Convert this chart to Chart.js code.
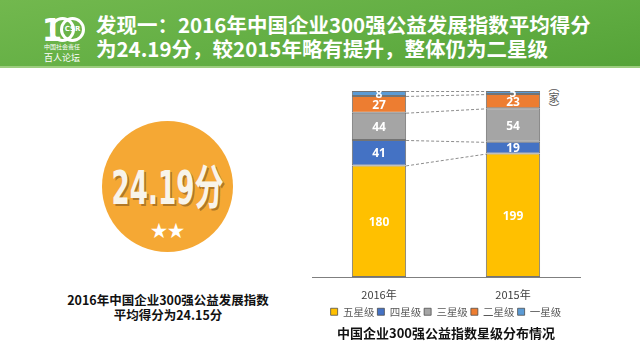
<!DOCTYPE html>
<html>
<head>
<meta charset="utf-8">
<script src="https://cdn.jsdelivr.net/npm/chart.js@4"></script>
<style>
  body { margin: 0; width: 640px; height: 360px; background: #fff; position: relative; overflow: hidden;
         font-family: "Noto Sans CJK SC", "Noto Sans", sans-serif; }
  #head { position: absolute; left: 0; top: 0; width: 640px; height: 66px;
          background: linear-gradient(170deg, #72b84e 0%, #62ae43 55%, #55a338 100%);
          border-bottom: 2px solid #9ccd7e; }
  #head .t { position: absolute; left: 96px; color: #fff; font-weight: bold; font-size: 20.5px; white-space: nowrap; }
  #logo1 { position: absolute; left: 42px; top: 11px; color: #fff; font: bold 32px "DejaVu Sans Condensed"; }
  .ring { position: absolute; top: 17px; width: 19px; height: 19px; border: 3px solid #fff; border-radius: 50%;
          color: #fff; font: bold 7px "DejaVu Sans"; text-align: center; line-height: 19px; }
  #logo3 { position: absolute; left: 40px; top: 43px; color: #fff; font-size: 6px; width: 44px; text-align: center; line-height: 8px; }
  #logo4 { position: absolute; left: 40px; top: 51px; color: #fff; font-size: 9px; width: 44px; text-align: center; }
  #circle { position: absolute; left: 102px; top: 121px; width: 131px; height: 131px; border-radius: 50%; background: #f5a834; }
  #score { position: absolute; left: -60px; top: 28px; width: 251px; text-align: center; color: #f8f4ea;
           font: bold 47px "DejaVu Sans Condensed", "Noto Sans CJK SC"; transform: scaleX(0.62);
           text-shadow: 3px 2px 0 rgba(90,60,20,0.45); white-space: nowrap; }
  #stars { position: absolute; left: 0; top: 99px; width: 131px; text-align: center; color: #fff; font-size: 17px; line-height: 20px; }
  #cap { position: absolute; left: 40px; top: 292px; width: 256px; text-align: center; font-weight: bold;
         font-size: 12.5px; line-height: 15px; color: #111; }
  #unit { position: absolute; left: 546px; top: 81px; writing-mode: vertical-rl; font-size: 11px; color: #595959; }
  #wrap { position: absolute; left: 303px; top: 80px; width: 300px; height: 266px; }
</style>
</head>
<body>
<div id="head">
  <div id="logo1">1</div>
  <div class="ring" style="left:50px"></div>
  <div class="ring" style="left:60px">CSR</div>
  <div id="logo3">中国社会责任</div>
  <div id="logo4">百人论坛</div>
  <div class="t" style="top:9px">发现一：2016年中国企业300强公益发展指数平均得分</div>
  <div class="t" style="top:33px">为24.19分，较2015年略有提升，整体仍为二星级</div>
</div>
<div id="circle">
  <div id="score">24.19分</div>
  <div id="stars">★★</div>
</div>
<div id="cap">2016年中国企业300强公益发展指数<br>平均得分为24.15分</div>
<div id="unit">（家）</div>
<div id="wrap"><canvas id="grafica"></canvas></div>
<script>
const years = ["2016年", "2015年"];
const levels = ["五星级", "四星级", "三星级", "二星级", "一星级"];
const colores = ["#ffc000", "#4472c4", "#a5a5a5", "#ed7d31", "#5b9bd5"];
const wuxing = [180, 199];
const sixing = [41, 19];
const sanxing = [44, 54];
const erxing = [27, 23];
const yixing = [8, 5];
const series = [wuxing, sixing, sanxing, erxing, yixing];

// etiquetas dentro de cada segmento
const etiquetas = {
  id: "etiquetas",
  afterDatasetsDraw(chart) {
    const ctx = chart.ctx;
    ctx.save();
    ctx.fillStyle = "#fff";
    ctx.textAlign = "center";
    ctx.textBaseline = "middle";
    ctx.font = "bold 12px 'Noto Sans', 'DejaVu Sans'";
    chart.data.datasets.forEach((ds, i) => {
      chart.getDatasetMeta(i).data.forEach((el, j) => {
        const p = el.getProps(["x", "y", "base"], true);
        ctx.fillText(ds.data[j], p.x, (p.y + p.base) / 2 + 1);
      });
    });
    ctx.restore();
  }
};

// lineas de serie punteadas entre barras
const lineas = {
  id: "lineas",
  afterDatasetsDraw(chart) {
    const ctx = chart.ctx;
    ctx.save();
    ctx.strokeStyle = "#8c8c8c";
    ctx.lineWidth = 1;
    ctx.setLineDash([3, 2]);
    chart.data.datasets.forEach((ds, i) => {
      const els = chart.getDatasetMeta(i).data;
      const a = els[0].getProps(["x", "y", "width"], true);
      const b = els[1].getProps(["x", "y", "width"], true);
      ctx.beginPath();
      ctx.moveTo(a.x + a.width / 2, a.y + 0.5);
      ctx.lineTo(b.x - b.width / 2, b.y + 0.5);
      ctx.stroke();
    });
    ctx.restore();
  }
};

new Chart(document.getElementById("grafica"), {
  type: "bar",
  data: {
    labels: years,
    datasets: series.map((d, i) => ({
      label: levels[i],
      data: d,
      backgroundColor: colores[i],
      borderColor: "rgba(70,70,70,0.75)",
      borderWidth: 1,
      borderSkipped: false,
      categoryPercentage: 1,
      barPercentage: 0.405
    }))
  },
  options: {
    responsive: true,
    maintainAspectRatio: false,
    animation: false,
    layout: { padding: { top: 11, left: 9, right: 23, bottom: 6 } },
    scales: {
      x: {
        stacked: true,
        grid: { display: false, drawTicks: false },
        border: { display: true, color: "#7f7f7f", width: 1 },
        ticks: { padding: 11, color: "#404040", font: { size: 11, family: "'Noto Sans CJK SC'" } },
        afterFit: (scale) => { scale.height = 26.5; }
      },
      y: { stacked: true, display: false, min: 0, max: 300 }
    },
    plugins: {
      legend: {
        position: "bottom",
        labels: {
          boxWidth: 7, boxHeight: 7, padding: 3, color: "#595959",
          font: { size: 10.5, family: "'Noto Sans CJK SC'" }
        }
      },
      title: {
        display: true,
        position: "bottom",
        text: "中国企业300强公益指数星级分布情况",
        color: "#111",
        font: { size: 13, weight: "bold", family: "'Noto Sans CJK SC'", lineHeight: 1 },
        padding: { top: 0, bottom: 0 }
      },
      tooltip: { enabled: false }
    }
  },
  plugins: [lineas, etiquetas]
});
</script>
</body>
</html>
